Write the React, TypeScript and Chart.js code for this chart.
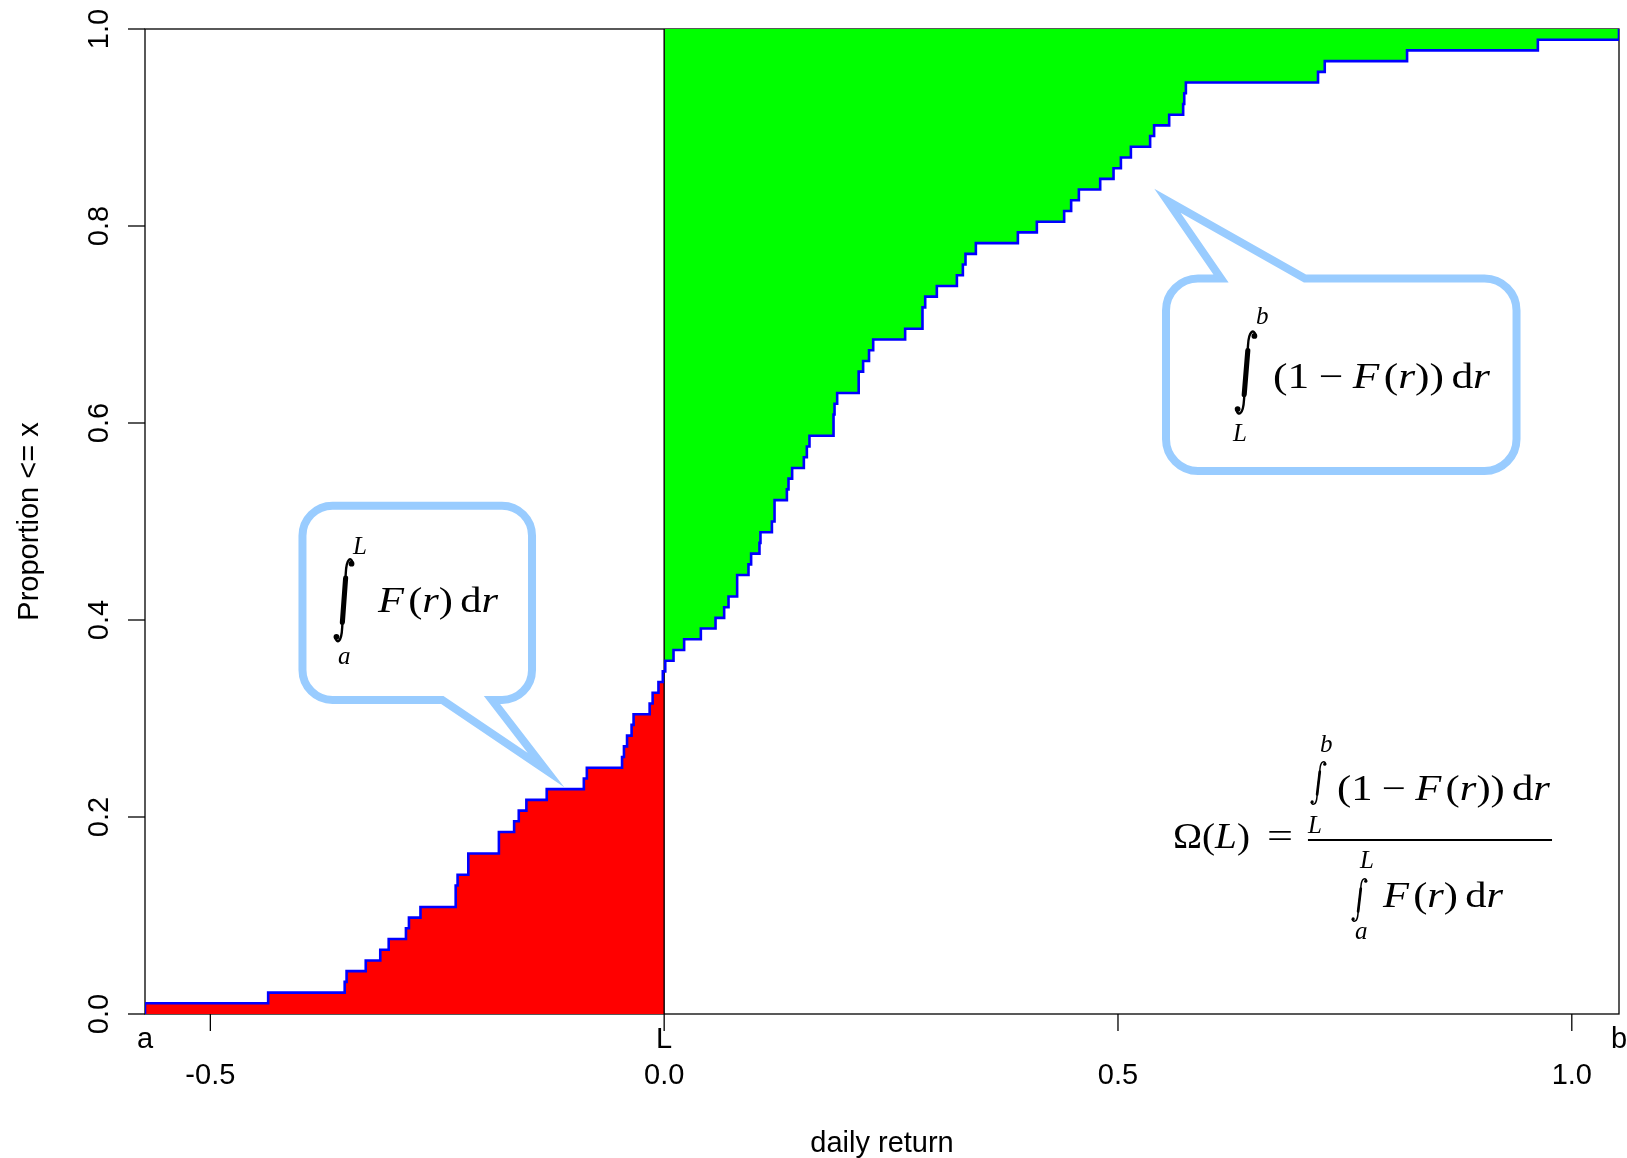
import React, { useEffect, useRef } from 'react';
import { Chart, registerables } from 'chart.js';

Chart.register(...registerables);

// ---------------- data ----------------
// daily returns at which the empirical CDF jumps (sorted)
const returnJumps: number[] = [
  -0.572, -0.4363, -0.352, -0.3499, -0.3288, -0.3128, -0.3035, -0.2845, -0.2812, -0.2685,
  -0.2297, -0.2276, -0.2158, -0.1821, -0.1653, -0.1602, -0.1518, -0.1294, -0.0885, -0.0852,
  -0.0464, -0.0443, -0.0409, -0.0359, -0.0337, -0.016, -0.0127, -0.0063, -0.0015, 0.0012,
  0.0103, 0.022, 0.0404, 0.0566, 0.0661, 0.0709, 0.0804, 0.0929, 0.0958, 0.105,
  0.1061, 0.1187, 0.1216, 0.1352, 0.137, 0.141, 0.1539, 0.1572, 0.1601, 0.1866,
  0.1877, 0.1906, 0.2143, 0.2192, 0.2257, 0.2303, 0.2655, 0.2846, 0.2876, 0.3004,
  0.3225, 0.3291, 0.332, 0.3434, 0.3897, 0.4106, 0.4407, 0.4484, 0.4569, 0.4804,
  0.4951, 0.5032, 0.5142, 0.5354, 0.5398, 0.5564, 0.5718, 0.573, 0.5748, 0.7204,
  0.7278, 0.8185, 0.9626, 1.052,
];
// proportion <= x just after each jump
const proportionAfterJump: number[] = [
  0.0109, 0.0217, 0.0326, 0.0435, 0.0543, 0.0652, 0.0761, 0.087, 0.0978, 0.1087,
  0.1304, 0.1413, 0.163, 0.1848, 0.1957, 0.2065, 0.2174, 0.2283, 0.2391, 0.25,
  0.2609, 0.2717, 0.2826, 0.2935, 0.3043, 0.3152, 0.3261, 0.337, 0.3478, 0.3587,
  0.3696, 0.3804, 0.3913, 0.4022, 0.413, 0.4239, 0.4457, 0.4565, 0.4674, 0.4783,
  0.4891, 0.5, 0.5217, 0.5326, 0.5435, 0.5543, 0.5652, 0.5761, 0.587, 0.6087,
  0.6196, 0.6304, 0.6522, 0.663, 0.6739, 0.6848, 0.6957, 0.7174, 0.7283, 0.7391,
  0.75, 0.7609, 0.7717, 0.7826, 0.7935, 0.8043, 0.8152, 0.8261, 0.837, 0.8478,
  0.8587, 0.8696, 0.8804, 0.8913, 0.9022, 0.913, 0.9239, 0.9348, 0.9457, 0.9565,
  0.9674, 0.9783, 0.9891, 1.0,
];
const thresholdL = 0;
const rangeA = returnJumps[0];
const rangeB = returnJumps[returnJumps.length - 1];

const xTickValues = [-0.5, 0, 0.5, 1.0];
const xTickLabels = ['-0.5', '0.0', '0.5', '1.0'];
const yTickValues = [0, 0.2, 0.4, 0.6, 0.8, 1.0];
const yTickLabels = ['0.0', '0.2', '0.4', '0.6', '0.8', '1.0'];
const markerValues = [rangeA, thresholdL, rangeB];
const markerLabels = ['a', 'L', 'b'];
const xTitle = 'daily return';
const yTitle = 'Proportion <= x';

// ---------------- derived step vertices ----------------
type P = { x: number; y: number };
function ecdfVertices(): P[] {
  const pts: P[] = [];
  let prev = 0;
  returnJumps.forEach((x, i) => {
    pts.push({ x, y: prev });
    pts.push({ x, y: proportionAfterJump[i] });
    prev = proportionAfterJump[i];
  });
  return pts;
}
function levelAt(v: number): number {
  let lv = 0;
  returnJumps.forEach((x, i) => {
    if (x <= v) lv = proportionAfterJump[i];
  });
  return lv;
}
const allPts = ecdfVertices();
const belowPts: P[] = [...allPts.filter((p) => p.x <= thresholdL), { x: thresholdL, y: levelAt(thresholdL) }];
const abovePts: P[] = [{ x: thresholdL, y: levelAt(thresholdL) }, ...allPts.filter((p) => p.x > thresholdL)];

// ---------------- drawing helpers ----------------
const SANS = "'Liberation Sans', Arial, Helvetica, sans-serif";
const SERIF = "'Liberation Serif', 'DejaVu Serif', 'Times New Roman', serif";
const BUBBLE = '#99ccff';

type Tok = { t?: string; it?: boolean; gap?: number };
const TOK_F: Tok[] = [{ t: 'F', it: true }, { gap: 0.1 }, { t: '(' }, { t: 'r', it: true }, { t: ')' }, { gap: 0.17 }, { t: 'd' }, { t: 'r', it: true }];
const TOK_1F: Tok[] = [
  { t: '(' }, { t: '1' }, { gap: 0.22 }, { t: '\u2212' }, { gap: 0.22 }, { t: 'F', it: true }, { gap: 0.1 },
  { t: '(' }, { t: 'r', it: true }, { t: ')' }, { t: ')' }, { gap: 0.17 }, { t: 'd' }, { t: 'r', it: true },
];
const TOK_OMEGA: Tok[] = [{ t: '\u03A9' }, { t: '(' }, { t: 'L', it: true }, { t: ')' }];

function font(size: number, it?: boolean) {
  return `${it ? 'italic ' : ''}${size}px ${SERIF}`;
}
function drawTokens(ctx: CanvasRenderingContext2D, toks: Tok[], x: number, base: number, size: number, targetW?: number) {
  ctx.save();
  let nat = 0;
  toks.forEach((tk) => {
    if (tk.gap) nat += tk.gap * size;
    else {
      ctx.font = font(size, tk.it);
      nat += ctx.measureText(tk.t || '').width;
    }
  });
  const sx = targetW ? targetW / nat : 1;
  ctx.translate(x, base);
  ctx.scale(sx, 1);
  ctx.fillStyle = '#000';
  ctx.textAlign = 'left';
  ctx.textBaseline = 'alphabetic';
  let cx = 0;
  toks.forEach((tk) => {
    if (tk.gap) {
      cx += tk.gap * size;
    } else {
      ctx.font = font(size, tk.it);
      ctx.fillText(tk.t || '', cx, 0);
      cx += ctx.measureText(tk.t || '').width;
    }
  });
  ctx.restore();
}
function letter(ctx: CanvasRenderingContext2D, s: string, x: number, base: number, size: number, it = true) {
  ctx.save();
  ctx.font = font(size, it);
  ctx.fillStyle = '#000';
  ctx.textAlign = 'left';
  ctx.textBaseline = 'alphabetic';
  ctx.fillText(s, x, base);
  ctx.restore();
}
function drawIntegral(ctx: CanvasRenderingContext2D, x: number, top: number, bottom: number, w: number) {
  const h = bottom - top;
  ctx.save();
  ctx.strokeStyle = '#000';
  ctx.fillStyle = '#000';
  ctx.lineCap = 'round';
  ctx.lineWidth = Math.max(1.5, h * 0.028);
  ctx.beginPath();
  ctx.moveTo(x + w * 0.98, top + h * 0.06);
  ctx.bezierCurveTo(x + w * 0.9, top - h * 0.015, x + w * 0.64, top + h * 0.0, x + w * 0.6, top + h * 0.18);
  ctx.lineTo(x + w * 0.4, top + h * 0.82);
  ctx.bezierCurveTo(x + w * 0.36, top + h * 1.0, x + w * 0.1, top + h * 1.015, x + w * 0.02, top + h * 0.94);
  ctx.stroke();
  ctx.lineWidth = Math.max(2.4, h * 0.06);
  ctx.beginPath();
  ctx.moveTo(x + w * 0.59, top + h * 0.24);
  ctx.lineTo(x + w * 0.41, top + h * 0.76);
  ctx.stroke();
  const r = Math.max(1.6, h * 0.034);
  ctx.beginPath();
  ctx.arc(x + w * 0.92, top + h * 0.07, r, 0, Math.PI * 2);
  ctx.fill();
  ctx.beginPath();
  ctx.arc(x + w * 0.08, top + h * 0.93, r, 0, Math.PI * 2);
  ctx.fill();
  ctx.restore();
}
type Tail = { side: 'top' | 'bottom'; x1: number; x2: number; tx: number; ty: number };
function drawBubble(ctx: CanvasRenderingContext2D, l: number, t: number, r: number, b: number, rad: number, tail: Tail) {
  ctx.save();
  ctx.beginPath();
  ctx.moveTo(l + rad, t);
  if (tail.side === 'top') {
    ctx.lineTo(tail.x1, t);
    ctx.lineTo(tail.tx, tail.ty);
    ctx.lineTo(tail.x2, t);
  }
  ctx.lineTo(r - rad, t);
  ctx.arcTo(r, t, r, t + rad, rad);
  ctx.lineTo(r, b - rad);
  ctx.arcTo(r, b, r - rad, b, rad);
  if (tail.side === 'bottom') {
    ctx.lineTo(tail.x2, b);
    ctx.lineTo(tail.tx, tail.ty);
    ctx.lineTo(tail.x1, b);
  }
  ctx.lineTo(l + rad, b);
  ctx.arcTo(l, b, l, b - rad, rad);
  ctx.lineTo(l, t + rad);
  ctx.arcTo(l, t, l + rad, t, rad);
  ctx.closePath();
  ctx.fillStyle = '#ffffff';
  ctx.fill();
  ctx.strokeStyle = BUBBLE;
  ctx.lineWidth = 8;
  ctx.lineJoin = 'miter';
  ctx.miterLimit = 10;
  ctx.stroke();
  ctx.restore();
}

const decorPlugin = {
  id: 'omegaDecor',
  beforeDatasetsDraw(chart: any) {
    const { ctx, chartArea: ca } = chart;
    ctx.save();
    ctx.strokeStyle = '#000';
    ctx.lineWidth = 1.3;
    ctx.strokeRect(ca.left, ca.top, ca.right - ca.left, ca.bottom - ca.top);
    ctx.restore();
  },
  afterDatasetsDraw(chart: any) {
    const { ctx, chartArea: ca } = chart;
    const xs = chart.scales.x;
    const ys = chart.scales.y;
    const X = (v: number) => xs.getPixelForValue(v);
    const Y = (v: number) => ys.getPixelForValue(v);

    ctx.save();
    // tick marks
    ctx.strokeStyle = '#000';
    ctx.lineWidth = 1.3;
    xs.ticks.forEach((tk: any) => {
      const px = X(tk.value);
      ctx.beginPath();
      ctx.moveTo(px, ca.bottom);
      ctx.lineTo(px, ca.bottom + 17);
      ctx.stroke();
    });
    ys.ticks.forEach((tk: any) => {
      const py = Y(tk.value);
      ctx.beginPath();
      ctx.moveTo(ca.left - 17, py);
      ctx.lineTo(ca.left, py);
      ctx.stroke();
    });
    // tick labels
    ctx.fillStyle = '#000';
    ctx.font = `29px ${SANS}`;
    ctx.textAlign = 'center';
    ctx.textBaseline = 'alphabetic';
    xs.ticks.forEach((tk: any, i: number) => {
      ctx.fillText(xTickLabels[i], X(tk.value), ca.bottom + 70);
    });
    markerValues.forEach((v, i) => {
      ctx.fillText(markerLabels[i], X(v), ca.bottom + 34);
    });
    ys.ticks.forEach((tk: any, i: number) => {
      ctx.save();
      ctx.translate(ca.left - 37, Y(tk.value));
      ctx.rotate(-Math.PI / 2);
      ctx.fillText(yTickLabels[i], 0, 0);
      ctx.restore();
    });
    // axis titles
    ctx.fillText(xTitle, (ca.left + ca.right) / 2, 1152);
    ctx.save();
    ctx.translate(37.5, (ca.top + ca.bottom) / 2);
    ctx.rotate(-Math.PI / 2);
    ctx.fillText(yTitle, 0, 0);
    ctx.restore();
    ctx.restore();

    // speech bubble for the red area
    drawBubble(ctx, X(-0.3985), Y(0.516), X(-0.1456), Y(0.3188), 30, {
      side: 'bottom', x1: X(-0.2445), x2: X(-0.1897), tx: X(-0.1302), ty: Y(0.2477),
    });
    {
      const ax = X(-0.3153);
      const ay = Y(0.4084);
      drawIntegral(ctx, ax - 43, ay - 54, ay + 31, 18);
      letter(ctx, 'L', ax - 25, ay - 58, 25);
      letter(ctx, 'a', ax - 40, ay + 52, 25);
      drawTokens(ctx, TOK_F, ax, ay, 35, 120);
    }
    // speech bubble for the green area
    drawBubble(ctx, X(0.5529), Y(0.7467), X(0.9391), Y(0.5513), 32, {
      side: 'top', x1: X(0.6135), x2: X(0.706), tx: X(0.5545), ty: Y(0.8256),
    });
    {
      const ax = X(0.6708);
      const ay = Y(0.6355);
      drawIntegral(ctx, ax - 37, ay - 58, ay + 27, 20);
      letter(ctx, 'b', ax - 17, ay - 64, 25);
      letter(ctx, 'L', ax - 40, ay + 53, 25);
      drawTokens(ctx, TOK_1F, ax, ay, 35, 217);
    }
    // Omega ratio
    {
      const bx = X(0.7093);
      const bx2 = X(0.9782);
      const by = Y(0.1766);
      drawTokens(ctx, TOK_OMEGA, bx - 135, by + 8, 35, 77);
      drawTokens(ctx, [{ t: '=' }], bx - 41, by + 8, 35, 26);
      ctx.save();
      ctx.strokeStyle = '#000';
      ctx.lineWidth = 2;
      ctx.beginPath();
      ctx.moveTo(bx, by);
      ctx.lineTo(bx2, by);
      ctx.stroke();
      ctx.restore();
      // numerator
      drawIntegral(ctx, bx + 3, by - 79, by - 35, 15);
      letter(ctx, 'b', bx + 12, by - 88, 25);
      letter(ctx, 'L', bx + 0, by - 7, 25);
      drawTokens(ctx, TOK_1F, bx + 29, by - 40, 35, 213);
      // denominator
      drawIntegral(ctx, bx + 44, by + 38, by + 82, 15);
      letter(ctx, 'L', bx + 52, by + 28, 25);
      letter(ctx, 'a', bx + 47, by + 99, 25);
      drawTokens(ctx, TOK_F, bx + 75, by + 67, 35, 120);
    }
  },
};

export default function App() {
  const ref = useRef<HTMLCanvasElement>(null);
  useEffect(() => {
    const canvas = ref.current;
    if (!canvas) return;
    const chart = new Chart(canvas, {
      type: 'scatter',
      data: {
        datasets: [
          {
            data: allPts, showLine: true, borderColor: '#0000ff', borderWidth: 2.6,
            pointRadius: 0, fill: false, order: 0, tension: 0,
          },
          {
            data: [{ x: thresholdL, y: 0 }, { x: thresholdL, y: 1 }], showLine: true,
            borderColor: '#000000', borderWidth: 1.4, pointRadius: 0, fill: false, order: 1,
          },
          {
            data: abovePts, showLine: true, borderWidth: 0, borderColor: 'rgba(0,0,0,0)',
            backgroundColor: '#00ff00', fill: { value: 1 }, pointRadius: 0, order: 2,
          },
          {
            data: belowPts, showLine: true, borderWidth: 0, borderColor: 'rgba(0,0,0,0)',
            backgroundColor: '#ff0000', fill: 'origin', pointRadius: 0, order: 3,
          },
        ] as any,
      },
      options: {
        responsive: false,
        animation: false,
        devicePixelRatio: 1,
        events: [],
        layout: { padding: { top: 29, right: 8, left: 0, bottom: 0 } },
        plugins: { legend: { display: false }, tooltip: { enabled: false }, title: { display: false } },
        scales: {
          x: {
            type: 'linear', min: rangeA, max: rangeB,
            grid: { display: false }, border: { display: false }, ticks: { display: false },
            afterBuildTicks: (s: any) => { s.ticks = xTickValues.map((v) => ({ value: v })); },
            afterFit: (s: any) => { s.height = 144; },
          },
          y: {
            type: 'linear', min: 0, max: 1,
            grid: { display: false }, border: { display: false }, ticks: { display: false },
            afterBuildTicks: (s: any) => { s.ticks = yTickValues.map((v) => ({ value: v })); },
            afterFit: (s: any) => { s.width = 145; },
          },
        },
      } as any,
      plugins: [decorPlugin],
    });
    return () => chart.destroy();
  }, []);
  return (
    <div style={{ position: 'fixed', left: 0, top: 0, width: 1627, height: 1158, background: '#ffffff' }}>
      <canvas ref={ref} width={1627} height={1158} style={{ display: 'block', width: 1627, height: 1158 }} />
    </div>
  );
}
